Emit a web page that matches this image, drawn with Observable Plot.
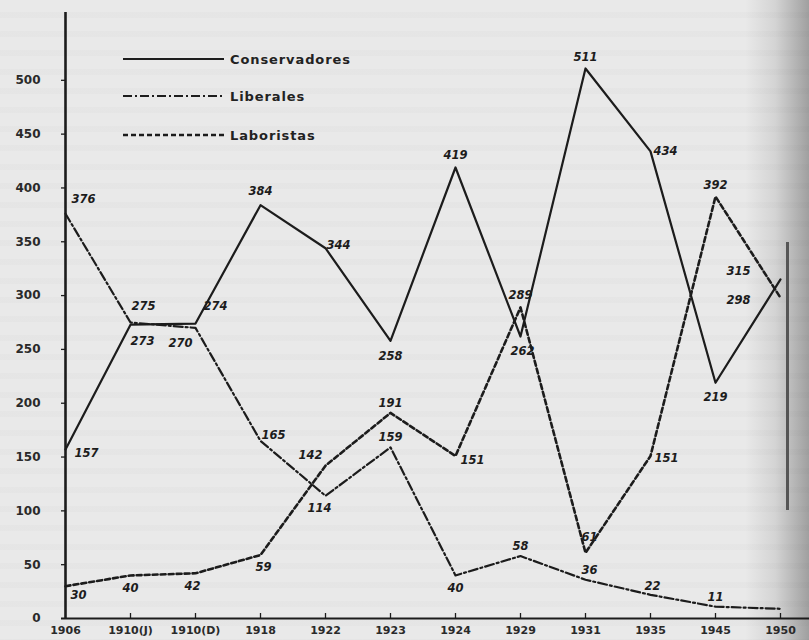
<!DOCTYPE html>
<html>
<head>
<meta charset="utf-8">
<script src="https://cdn.jsdelivr.net/npm/d3@7"></script>
<script src="https://cdn.jsdelivr.net/npm/@observablehq/plot@0.6"></script>
<style>
  html, body { margin: 0; padding: 0; }
  body { width: 809px; height: 640px; overflow: hidden; }
  #page {
    position: relative; width: 809px; height: 640px;
    background:
      linear-gradient(to right, rgba(0,0,0,0) 0px, rgba(0,0,0,0) 745px, rgba(60,60,60,0.12) 775px, rgba(40,40,40,0.38) 809px),
      repeating-linear-gradient(to bottom, rgba(0,0,0,0) 0px, rgba(0,0,0,0) 12px, rgba(0,0,0,0.015) 12px, rgba(0,0,0,0.015) 18px, rgba(0,0,0,0) 18px, rgba(0,0,0,0) 19px),
      #e9e9e9;
  }
  #page svg.chart { position: absolute; left: 0; top: 0; }
  #legend { position: absolute; left: 0; top: 0; pointer-events: none; }
  #fold { position: absolute; left: 786px; top: 242px; width: 3px; height: 268px; background: #555; }
</style>
</head>
<body>
<div id="page"></div>
<script>
// ---- data ----
const years = ["1906", "1910(J)", "1910(D)", "1918", "1922", "1923", "1924", "1929", "1931", "1935", "1945", "1950"];
const conservadores = [157, 273, 274, 384, 344, 258, 419, 262, 511, 434, 219, 315];
const liberales     = [376, 275, 270, 165, 114, 159, 40, 58, 36, 22, 11, 9];
const laboristas    = [30, 40, 42, 59, 142, 191, 151, 289, 61, 151, 392, 298];
const parties = ["Conservadores", "Liberales", "Laboristas"];
const yTicks = [0, 50, 100, 150, 200, 250, 300, 350, 400, 450, 500];
// which values carry a printed label (the 1950 Liberal value is cut off in the scan)
const labelled = {
  Conservadores: [1,1,1,1,1,1,1,1,1,1,1,1],
  Liberales:     [1,1,1,1,1,1,1,1,1,1,1,0],
  Laboristas:    [1,1,1,1,1,1,1,1,1,1,1,1]
};

// ---- styling / placement (kept apart from the data) ----
const lineStyle = {
  Conservadores: {strokeWidth: 2.2, strokeDasharray: null},
  Liberales:     {strokeWidth: 2.2, strokeDasharray: "9,3,2,3"},
  Laboristas:    {strokeWidth: 2.6, strokeDasharray: "5,3"}
};
const place = {
  Conservadores: [["start",9,4],["start",0,17],["start",8,-17],["middle",0,-14],["start",1,-3],["middle",0,16],["middle",0,-12],["middle",2,15],["middle",0,-11],["start",3,0],["middle",0,15],["end",-30,-8]],
  Liberales:     [["start",6,-14],["start",1,-16],["end",-3,15],["start",1,-6],["middle",-6,13],["middle",0,-10],["middle",0,13],["middle",0,-10],["middle",4,-9],["middle",2,-9],["middle",0,-9],null],
  Laboristas:    [["start",5,9],["middle",0,13],["middle",-3,13],["middle",3,12],["end",-3,-10],["middle",0,-10],["start",5,4],["middle",0,-12],["middle",4,-16],["start",4,2],["middle",0,-11],["end",-30,3]]
};

const valuesOf = {Conservadores: conservadores, Liberales: liberales, Laboristas: laboristas};
const rows = parties.flatMap(p => years.map((year, i) => ({party: p, year, value: valuesOf[p][i], i})));

const ink = "#1c1c1c";
const lineMarks = parties.map(p => Plot.line(rows.filter(d => d.party === p), {
  x: "year", y: "value", stroke: ink,
  strokeWidth: lineStyle[p].strokeWidth,
  strokeDasharray: lineStyle[p].strokeDasharray,
  strokeLinejoin: "round"
}));

// group labels by placement so each group can use constant dx/dy
const groups = new Map();
for (const d of rows) {
  if (!labelled[d.party][d.i]) continue;
  const pl = place[d.party][d.i];
  if (!pl) continue;
  const key = pl.join("|");
  if (!groups.has(key)) groups.set(key, {pl, data: []});
  groups.get(key).data.push(d);
}
const labelMarks = [...groups.values()].map(({pl, data}) => Plot.text(data, {
  x: "year", y: "value", text: d => String(d.value),
  textAnchor: pl[0], dx: pl[1], dy: pl[2],
  fill: ink, fontSize: 11.5, fontWeight: "bold", fontStyle: "italic",
  fontFamily: "DejaVu Sans"
}));

const chart = Plot.plot({
  width: 809,
  height: 640,
  marginTop: 12,
  marginBottom: 22,
  marginLeft: 61,
  marginRight: 0,
  x: {type: "point", domain: years, range: [61, 783], padding: 0},
  y: {domain: [0, 563]},
  style: {background: "transparent", color: ink, fontFamily: "DejaVu Sans", overflow: "visible"},
  marks: [
    Plot.ruleX([years[0]], {stroke: ink, strokeWidth: 2.6}),
    Plot.ruleY([0], {stroke: ink, strokeWidth: 2}),
    Plot.axisY(yTicks.filter(v => v > 0), {tickSize: -5, tickFormat: () => "", stroke: ink, strokeWidth: 1.3, label: null}),
    Plot.axisY(yTicks, {tickSize: 0, tickPadding: 21, fontSize: 12, fontWeight: "bold", fill: "#2a2a2a", label: null}),
    Plot.axisX(years.slice(1), {tickSize: -5, tickFormat: () => "", stroke: ink, strokeWidth: 1.3, label: null}),
    Plot.axisX(years, {tickSize: 0, tickPadding: 8, fontSize: 11, fontWeight: "bold", fill: "#2a2a2a", label: null}),
    ...lineMarks,
    ...labelMarks
  ]
});
chart.classList.add("chart");
const page = document.getElementById("page");
page.appendChild(chart);

// legend drawn inside the plot area (upper left)
const legendY = [59, 96, 135];
const ns = "http://www.w3.org/2000/svg";
const leg = document.createElementNS(ns, "svg");
leg.setAttribute("id", "legend");
leg.setAttribute("width", 420);
leg.setAttribute("height", 170);
parties.forEach((p, k) => {
  const ln = document.createElementNS(ns, "line");
  ln.setAttribute("x1", 123); ln.setAttribute("x2", 224);
  ln.setAttribute("y1", legendY[k]); ln.setAttribute("y2", legendY[k]);
  ln.setAttribute("stroke", ink);
  ln.setAttribute("stroke-width", lineStyle[p].strokeWidth);
  if (lineStyle[p].strokeDasharray) ln.setAttribute("stroke-dasharray", lineStyle[p].strokeDasharray);
  leg.appendChild(ln);
  const tx = document.createElementNS(ns, "text");
  tx.setAttribute("x", 230); tx.setAttribute("y", legendY[k]);
  tx.setAttribute("dy", "0.35em");
  tx.setAttribute("font-family", "DejaVu Sans");
  tx.setAttribute("font-weight", "bold");
  tx.setAttribute("font-size", 13);
  tx.setAttribute("letter-spacing", "0.9");
  tx.setAttribute("fill", "#222");
  tx.textContent = p;
  leg.appendChild(tx);
});
page.appendChild(leg);

const fold = document.createElement("div");
fold.id = "fold";
page.appendChild(fold);
</script>
</body>
</html>
